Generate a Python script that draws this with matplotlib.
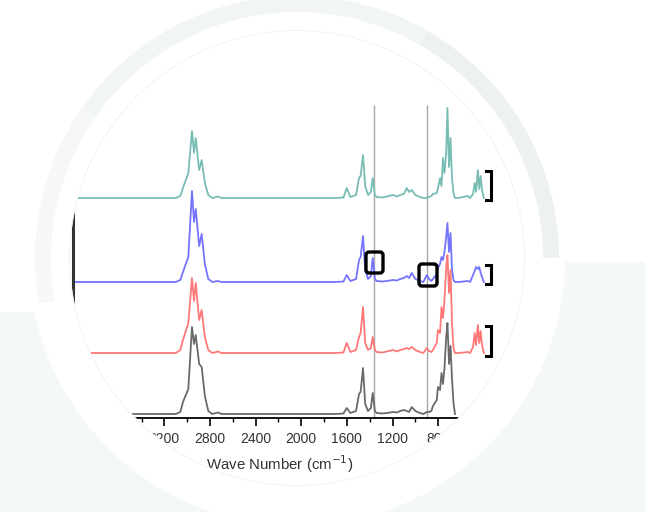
import numpy as np
import matplotlib.pyplot as plt
from matplotlib.patches import Circle, Wedge, Polygon, PathPatch, FancyBboxPatch
from matplotlib.path import Path
from matplotlib.ticker import MultipleLocator

plt.rcParams['font.family'] = ['Liberation Sans', 'DejaVu Sans']

# wave numbers (cm-1), shared by all traces
wavenumber = [4000, 3100, 3060, 3037, 2990, 2958, 2940, 2925, 2895, 2873, 2845, 2815,
              2780, 2730, 2700, 1700, 1630, 1602, 1570, 1520, 1494, 1480, 1459, 1440,
              1415, 1390, 1374, 1355, 1340, 1290, 1250, 1196, 1160, 1135, 1100, 1076,
              1055, 1032, 1000, 960, 930, 900, 880, 860, 846, 813, 802, 784, 771, 758,
              745, 730, 719, 705, 692, 679, 666, 653, 620, 540, 520, 495, 480, 468,
              452, 440, 428, 416, 400]

# absorbance above each baseline (arbitrary units)
cyan = [0, 0, 2, 10, 25, 67, 45, 60, 28, 38, 15, 3,
        0, 1.5, 0, 0, 0.5, 10, 1, 3, 20, 22, 43, 12,
        3, 6, 20, 3, 1, 0.5, 1.5, 3, 1.5, 3, 4, 10,
        6, 8, 3, 1, 0, 0, 1, 2, 4, 5, 10, 20, 12, 40,
        25, 45, 90, 31, 60, 20, 5, 0, 0, 2, 0, 4, 15, 6,
        28, 9, 22, 8, 0]
blue = [0, 0, 2, 10, 25, 91, 60, 73, 36, 48, 18, 3,
        0, 1, 0, 0, 0.5, 7, 1, 3, 22, 25, 46, 12,
        3, 6, 24, 3, 1, 0.5, 1, 2, 1.5, 3, 4, 6,
        4, 9, 3, 1, 0, 7, 3, 1, 3, 8, 14, 18, 25, 22,
        30, 45, 59, 30, 49, 12, 2, 0, 0, 1, 0, 7, 11, 15,
        13, 15, 9, 5, 0]
red = [0, 0, 3, 13, 30, 75, 52, 70, 33, 43, 16, 3,
       0, 1.5, 0, 0, 0.5, 10, 1, 3, 16, 20, 46, 10,
       3, 5, 16, 3, 1, 0.5, 1.5, 3, 1.5, 3, 4, 5,
       4, 6, 3, 1, 0, 5, 2, 1, 3, 10, 23, 20, 46, 35,
       53, 86, 98, 60, 83, 30, 5, 0, 0, 1, 0, 6, 20, 8,
       28, 10, 22, 8, 0]
black = [0, 0, 2, 12, 25, 87, 70, 79, 50, 47, 18, 3,
         0, 1.5, 0, 0, 0.5, 6, 1, 3, 20, 22, 46, 10,
         3, 6, 21, 3, 1, 0.5, 1, 2, 1.5, 3, 4, 3,
         2, 7, 3, 1, 0, 2, 2, 3, 8, 14, 27, 24, 41, 30,
         46, 77, 91, 50, 68, 35, 11, 0]

series = [('cyan', cyan, 220, '#78bdb3'),
          ('blue', blue, 136, '#7474ff'),
          ('red', red, 65, '#ff7878'),
          ('black', black, 4, '#6a6a6a')]

marked_lines = [1365, 898]

W, H = 645, 512
fig = plt.figure(figsize=(W / 100, H / 100), dpi=100)
cx, cy = 297, 258

# spectra axes
x0 = 210 - (4000 - 2800) * 0.1141
x1 = 210 + (2800 - 380) * 0.1141
ax = fig.add_axes([x0 / W, (H - 418) / H, (x1 - x0) / W, (418 - 30) / H], zorder=2)
ax.set_xlim(4000, 380)
ax.set_ylim(0, 388)

for name, vals, base, color in series:
    wn = wavenumber[:len(vals)]
    y = np.array(vals) + base
    ax.plot(wn, y, color=color, lw=1.3)

ax.vlines(marked_lines, 0, 313, color='#a8a8a8', lw=1, zorder=1)

for side in ['top', 'right']:
    ax.spines[side].set_visible(False)
ax.spines['bottom'].set_linewidth(1.3)
ax.spines['left'].set_linewidth(2.2)
ax.spines['left'].set_color('#333333')
ax.set_yticks([])
ax.xaxis.set_major_locator(MultipleLocator(400))
ax.xaxis.set_minor_locator(MultipleLocator(200))
ax.tick_params(axis='x', which='major', direction='out', length=6, width=1.2,
               labelsize=10, pad=4, labelcolor='#333333')
ax.tick_params(axis='x', which='minor', direction='out', length=3, width=1)
ax.set_xlabel('Wave Number (cm$^{-1}$)', fontsize=10.8, color='#333333', labelpad=5)

# circular frame drawn over the plot, pixel coordinates
frame = fig.add_axes([0, 0, 1, 1], zorder=3)
frame.set_xlim(0, W)
frame.set_ylim(H, 0)
frame.axis('off')
frame.patch.set_alpha(0)

t = np.linspace(0, 2 * np.pi, 400)
rect = [(-5, -5), (W + 5, -5), (W + 5, H + 5), (-5, H + 5), (-5, -5)]
hole = list(zip(cx + 227 * np.cos(t[::-1]), cy + 227 * np.sin(t[::-1])))
mask = Path.make_compound_path(Path(rect, closed=True), Path(hole, closed=True))
frame.add_patch(PathPatch(mask, fc='white', ec='none'))

a0 = np.pi - np.arcsin((312 - cy) / 268)
a1 = np.arcsin((262 - cy) / 268)
arc = np.linspace(a0, a1, 200)
gray = [(-5, 312)] + list(zip(cx + 268 * np.cos(arc), cy + 268 * np.sin(arc))) \
       + [(W + 5, 262), (W + 5, H + 40), (-5, H + 40)]
frame.add_patch(Polygon(gray, closed=True, fc='#f5f8f9', ec='none'))

frame.add_patch(Wedge((cx, cy), 262, 170, 215, width=16, color='#f5f7f8', lw=0))
frame.add_patch(Wedge((cx, cy), 262, 215, 300, width=16, color='#f2f5f5', lw=0))
frame.add_patch(Wedge((cx, cy), 262, 300, 360, width=16, color='#edf1f2', lw=0))
frame.add_patch(Circle((cx, cy), 227.5, fill=False, ec='#eef1f3', lw=0.6))

# boxes and brackets
for bx, by, bw, bh in [(366, 252, 17, 21), (419, 264, 18, 22)]:
    frame.add_patch(FancyBboxPatch((bx, by), bw, bh, boxstyle='round,pad=0,rounding_size=3',
                                   fill=False, ec='black', lw=2.4))
for y_top, y_bot in [(171, 200), (265, 284), (326, 356)]:
    frame.plot([486, 491, 491, 486], [y_top, y_top, y_bot, y_bot], color='black', lw=2.2,
               solid_joinstyle='miter')

fig.savefig('out.png', dpi=100)
